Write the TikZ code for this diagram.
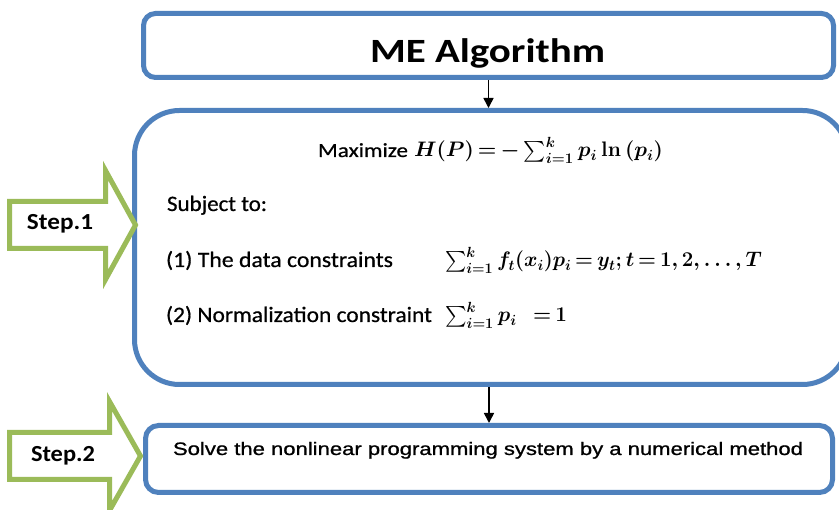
\RequirePackage{fix-cm}
\documentclass[tikz,border=0pt]{standalone}
\usepackage{amsmath}
\usepackage{fontspec}
\usepackage{graphicx}
\usetikzlibrary{arrows.meta}
\newfontfamily\carlito[FakeBold=0.6]{Carlito}
\newfontfamily\carlitob{Carlito}
\newfontfamily\libsans[FakeBold=0.9]{Liberation Sans}
\definecolor{boxblue}{HTML}{4F81BD}
\definecolor{stepgreen}{HTML}{9BBB59}
\newcommand{\fitw}[2]{\resizebox{#1}{\height}{#2}}
\newcommand{\tightmath}{\thickmuskip=3mu plus 2mu\relax\medmuskip=2mu plus 1mu\relax}
\begin{document}
\begin{tikzpicture}[x=1pt,y=-1pt,
  bluebox/.style={draw=boxblue, line width=5pt, fill=white, inner sep=0pt, outer sep=0pt},
  stepshape/.style={draw=stepgreen, line width=5pt, fill=white, line join=miter},
  flow/.style={-{Triangle[length=10pt,width=10pt]}, line width=1.6pt, black, shorten <=2.5pt, shorten >=2.5pt},
  txt/.style={inner sep=0pt, outer sep=0pt, anchor=base west, text=black}]
\useasboundingbox (0,0) rectangle (839,510);
\clip (0,0) rectangle (839,510);
\fill[white] (0,0) rectangle (839,510);
% boxes
\node[bluebox, rounded corners=12pt, minimum width=690pt, minimum height=64pt] (top) at (488.5,45.5) {};
\node[bluebox, rounded corners=45pt, minimum width=713pt, minimum height=274pt] (mid) at (491,247.5) {};
\node[bluebox, rounded corners=13pt, minimum width=687pt, minimum height=67pt] (bot) at (489,459) {};
% connectors
\draw[flow] (top.south) -- (top.south |- mid.north);
\draw[flow] (bot.north |- mid.south) -- (bot.north);
% step arrows
\draw[stepshape] (9.5,201.5) -- (105.5,201.5) -- (105.5,170.5) -- (135.5,225) -- (105.5,279.5) -- (105.5,248.5) -- (9.5,248.5) -- cycle;
\draw[stepshape] (9.5,432.5) -- (109.5,432.5) -- (109.5,401.5) -- (140.5,456) -- (109.5,510.5) -- (109.5,479.5) -- (9.5,479.5) -- cycle;
% texts
\node[txt] (title) at (370,63) {\fitw{235pt}{\fontsize{34}{40}\selectfont\carlitob\bfseries ME Algorithm}};
\node[txt] (maxword) at (318,157) {\fitw{90pt}{\fontsize{20}{24}\selectfont\carlito Maximize}};
\node[txt] (maxf) at (414,157) {\fitw{249pt}{\boldmath\fontsize{21}{25}\selectfont\tightmath$H(P) = -\sum_{i=1}^{k} p_i\;\mathbf{ln}\,(p_i)$}};
\node[txt] (subj) at (167,211) {\fitw{100pt}{\fontsize{22}{26}\selectfont\carlito Subject to:}};
\node[txt] (c1) at (166,267) {\fitw{227pt}{\fontsize{22}{26}\selectfont\carlito (1) The data constraints}};
\node[txt] (f1) at (445,267) {\fitw{317pt}{\boldmath\fontsize{21}{25}\selectfont\tightmath$\sum_{i=1}^{k} f_t(x_i)p_i = y_t; t = \mathbf{1, 2}, \dots, T$}};
\node[txt] (c2) at (166,322) {\fitw{266pt}{\fontsize{22}{26}\selectfont\carlito (2) Normalization constraint}};
\node[txt] (f2) at (445,322) {\fitw{122pt}{\boldmath\fontsize{21}{25}\selectfont\tightmath$\sum_{i=1}^{k} p_i\ \ = \mathbf{1}$}};
\node[txt] (solve) at (173,455) {\fitw{630pt}{\fontsize{18}{22}\selectfont\libsans Solve the nonlinear programming system by a numerical method}};
\node[txt] (s1) at (27,230) {\fitw{66pt}{\fontsize{23}{27}\selectfont\carlitob\bfseries Step.1}};
\node[txt] (s2) at (31,462) {\fitw{64pt}{\fontsize{23}{27}\selectfont\carlitob\bfseries Step.2}};
\end{tikzpicture}
\end{document}
